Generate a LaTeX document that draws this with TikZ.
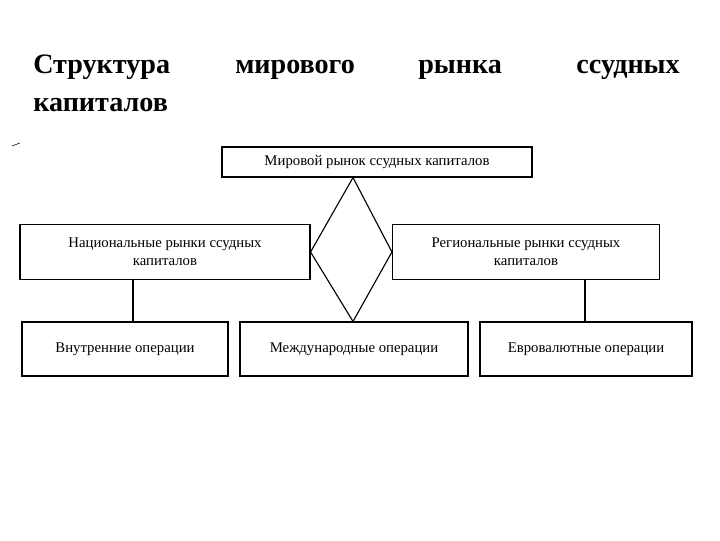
\documentclass[tikz,border=0pt]{standalone}
\usepackage{fontspec}
\setmainfont{Liberation Serif}
\usetikzlibrary{positioning}
\tikzset{box/.style={draw,thick,minimum height=0.75cm,align=center,inner sep=2pt,font=\fontsize{10.5}{12.5}\selectfont},
  title/.style={anchor=base west,font=\fontsize{20}{22}\selectfont\bfseries}}
\begin{document}
\begin{tikzpicture}[x=0.025cm,y=-0.025cm]
\useasboundingbox (0,0) rectangle (720,540);
\node[title,inner sep=0pt] (t1) at (33,73) {Структура};
\node[title,inner sep=0pt] (t2) at (235,73) {мирового};
\node[title,inner sep=0pt] (t3) at (418,73) {рынка};
\node[title,inner sep=0pt,anchor=base east] (t4) at (680,73) {ссудных};
\node[title,inner sep=0pt] (t5) at (33,111) {капиталов};
\draw (12,146) -- (20,143);

\node[box,minimum width=310*0.025cm] (world) at (377,162) {Мировой рынок ссудных капиталов};
\node[box,minimum width=290*0.025cm,minimum height=55*0.025cm] (nat) at (165,252) {Национальные рынки ссудных\\капиталов};
\node[box,minimum width=267*0.025cm,minimum height=55*0.025cm] (reg) at (526,252) {Региональные рынки ссудных\\капиталов};
\node[box,minimum width=206*0.025cm,minimum height=54*0.025cm] (inner) at (125,349) {Внутренние операции};
\node[box,minimum width=228*0.025cm,minimum height=54*0.025cm] (intl) at (354,349) {Международные операции};
\node[box,minimum width=212*0.025cm,minimum height=54*0.025cm] (euro) at (586,349) {Евровалютные операции};

\draw[thick] (world.south -| 353,0) -- (nat.east) -- (intl.north -| 353,0) -- (reg.west) -- cycle;
\draw[thick] (nat.south -| 133,0) -- (inner.north -| 133,0);
\draw[thick] (reg.south -| 585,0) -- (euro.north -| 585,0);
\end{tikzpicture}
\end{document}
